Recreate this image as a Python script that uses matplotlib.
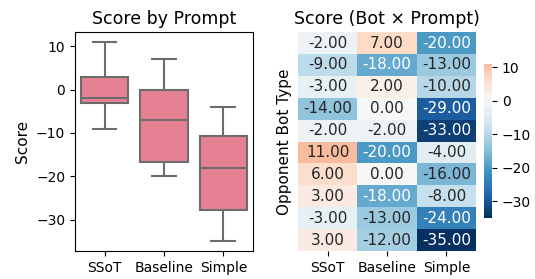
import numpy as np
import pandas as pd
import matplotlib
matplotlib.use("Agg")
import matplotlib.pyplot as plt
import seaborn as sns

# scores per opponent bot (rows) for each prompt
prompts = ["SSoT", "Baseline", "Simple"]
ssot = [-2, -9, -3, -14, -2, 11, 6, 3, -3, 3]
baseline = [7, -18, 2, 0, -2, -20, 0, -18, -13, -12]
simple = [-20, -13, -10, -29, -33, -4, -16, -8, -24, -35]

mat = pd.DataFrame({"SSoT": ssot, "Baseline": baseline, "Simple": simple})
long = mat.melt(var_name="Prompt", value_name="Score")

fig = plt.figure(figsize=(5.35, 2.79), dpi=100)
ax1 = fig.add_axes([0.140, 0.100, 0.333, 0.785])
ax2 = fig.add_axes([0.557, 0.100, 0.333, 0.785])
cax = fig.add_axes([0.905, 0.219, 0.015, 0.552])

box_color = sns.color_palette("husl")[0]
sns.boxplot(data=long, x="Prompt", y="Score", order=prompts, color=box_color,
            showfliers=False, linewidth=1.5, ax=ax1)
ax1.set_title("Score by Prompt", fontsize=12.5)
ax1.set_xlabel("")
ax1.set_ylabel("Score", fontsize=11)
ax1.tick_params(labelsize=10)

sns.heatmap(mat[prompts], annot=True, fmt=".2f", cmap="RdBu_r", center=0,
            yticklabels=False, annot_kws={"fontsize": 11}, ax=ax2, cbar_ax=cax)
ax2.set_title("Score (Bot \u00d7 Prompt)", fontsize=12.5)
ax2.set_ylabel("Opponent Bot Type", fontsize=11)
ax2.tick_params(labelsize=10)
cax.tick_params(labelsize=10)
cax.set_yticks([10, 0, -10, -20, -30])

fig.savefig("out.png", dpi=100)
